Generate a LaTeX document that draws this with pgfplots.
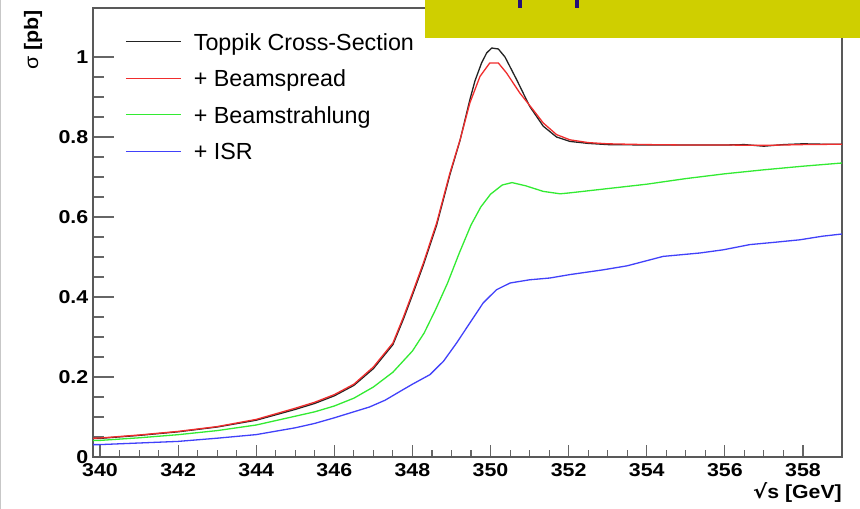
\documentclass[border=0pt]{standalone}
\usepackage{fontspec}
\setmainfont{Liberation Sans}
\newfontfamily\dejavu{DejaVu Sans}
\usepackage{graphicx}
\usepackage{pgfplots}
\pgfplotsset{compat=1.18}

\definecolor{cblack}{RGB}{35,35,35}
\definecolor{cred}{RGB}{240,45,45}
\definecolor{cgreen}{RGB}{50,235,50}
\definecolor{cblue}{RGB}{65,65,250}
\definecolor{boxyellow}{RGB}{207,207,0}
\definecolor{navy}{RGB}{35,15,120}

\newcommand{\tickfont}{\fontsize{18.6}{18.6}\selectfont\bfseries}

\begin{document}
\begin{tikzpicture}[x=1pt,y=1pt]
\useasboundingbox (0,0) rectangle (860,509);
\fill[white] (0,0) rectangle (860,509);
\draw[black!22, line width=1pt] (0.5,0) -- (0.5,509);

% axis that carries the y ticks (longer ticks, as in ROOT)
\begin{axis}[
  at={(93pt,52pt)}, anchor=south west, scale only axis,
  width=749pt, height=449pt,
  xmin=339.82, xmax=359, ymin=0, ymax=1.1225,
  axis line style={draw=none},
  xtick=\empty,
  ytick={0,0.2,0.4,0.6,0.8,1},
  minor y tick num=3,
  ytick pos=left,
  tick align=inside,
  major tick length=21pt, minor tick length=11pt,
  every tick/.style={black!60, line width=1.1pt},
  yticklabel={\scalebox{1.15}[1]{\pgfmathprintnumber[assume math mode=true]{\tick}}},
  yticklabel style={font=\tickfont, inner sep=0pt, xshift=-4.5pt},
]
\end{axis}

% main axis: data, x ticks, legend
\begin{axis}[
  at={(93pt,52pt)}, anchor=south west, scale only axis,
  width=749pt, height=449pt,
  xmin=339.82, xmax=359, ymin=0, ymax=1.1225,
  axis line style={black!65, line width=1.3pt},
  ytick=\empty,
  xtick={340,342,...,358},
  minor x tick num=3,
  xtick pos=left,
  tick align=inside,
  major tick length=12pt, minor tick length=7pt,
  every tick/.style={black!60, line width=1.1pt},
  xticklabel={\scalebox{1.15}[1]{\pgfmathprintnumber[assume math mode=true,1000 sep={}]{\tick}}},
  xticklabel style={font=\tickfont, inner sep=0pt, yshift=-6pt},
  legend cell align=left,
  legend style={draw=none, fill=none, at={(axis description cs:0.0427,0.9443)}, anchor=north west,
    inner sep=0pt, row sep=19.5pt, font=\fontsize{23.3}{23.3}\selectfont,
    nodes={inner sep=0pt, text height=17pt, text depth=0pt}},
  legend image code/.code={\draw[#1] (0pt,0pt) -- (55pt,0pt); \path[draw=none] (0pt,0pt) -- (68pt,0pt);},
  every axis plot/.append style={line width=1.3pt},
]
% Toppik cross-section (black)
\addplot[cblack] coordinates {
(339.82,0.046) (340,0.0465) (341,0.054) (342,0.063) (343,0.075) (344,0.092) (345,0.119)
(345.5,0.134) (346,0.153) (346.5,0.179) (347,0.221) (347.5,0.281) (347.77,0.345)
(348,0.405) (348.28,0.48) (348.62,0.58) (348.96,0.706) (349.22,0.792) (349.47,0.893)
(349.6,0.94) (349.77,0.985) (349.9,1.01) (350.03,1.0225) (350.2,1.02) (350.37,1.0)
(350.67,0.943) (351.0,0.877) (351.35,0.827) (351.69,0.80) (352.03,0.789) (352.5,0.784)
(353,0.781) (354,0.780) (355,0.780) (356,0.780) (356.5,0.781) (357,0.777) (357.5,0.781)
(358,0.783) (358.5,0.782) (359,0.782)
};
\addlegendentry{Toppik Cross-Section}
% + Beamspread (red)
\addplot[cred] coordinates {
(339.82,0.047) (340,0.0475) (341,0.055) (342,0.064) (343,0.076) (344,0.094) (345,0.122)
(345.5,0.137) (346,0.156) (346.5,0.182) (347,0.225) (347.5,0.285) (347.77,0.35)
(348,0.41) (348.28,0.485) (348.62,0.585) (348.96,0.71) (349.22,0.793) (349.47,0.885)
(349.73,0.9515) (349.98,0.985) (350.2,0.985) (350.41,0.96) (350.75,0.91) (351.09,0.868)
(351.35,0.835) (351.69,0.806) (352.03,0.793) (352.5,0.786) (353,0.783) (354,0.781)
(355,0.780) (356,0.780) (357,0.779) (358,0.781) (359,0.782)
};
\addlegendentry{+ Beamspread}
% + Beamstrahlung (green)
\addplot[cgreen] coordinates {
(339.82,0.041) (340,0.0415) (341,0.048) (342,0.0558) (343,0.066) (344,0.080) (345,0.102)
(345.5,0.113) (346,0.1275) (346.5,0.147) (347,0.175) (347.5,0.212) (348,0.265)
(348.3,0.31) (348.6,0.37) (348.9,0.435) (349.2,0.51) (349.5,0.58) (349.75,0.625)
(350.0,0.657) (350.3,0.68) (350.55,0.686) (350.9,0.678) (351.35,0.664) (351.78,0.658)
(352.0,0.66) (353,0.671) (354,0.682) (355,0.696) (356,0.708) (357,0.718) (358,0.727)
(359,0.735)
};
\addlegendentry{+ Beamstrahlung}
% + ISR (blue)
\addplot[cblue] coordinates {
(339.82,0.031) (340,0.031) (341,0.035) (342,0.039) (343,0.047) (344,0.056) (345,0.073)
(345.5,0.084) (346,0.098) (346.5,0.113) (346.9,0.125) (347.3,0.142) (347.7,0.165)
(348.0,0.182) (348.45,0.206) (348.8,0.24) (349.13,0.285) (349.47,0.335) (349.81,0.385)
(350.15,0.418) (350.5,0.435) (351.0,0.443) (351.52,0.4475) (352.03,0.456) (352.89,0.468)
(353.5,0.478) (354.42,0.5015) (355.36,0.51) (355.96,0.518) (356.64,0.531) (357.3,0.537)
(357.92,0.543) (358.5,0.552) (359,0.5575)
};
\addlegendentry{+ ISR}
\end{axis}

% axis titles
\node[anchor=north east, inner sep=0pt] at (842,27)
  {\scalebox{1.12}[1]{\fontsize{19}{19}\selectfont{\dejavu\bfseries √}\bfseries s [GeV]}};
\node[rotate=90, anchor=east, inner sep=0pt] at (33,499)
  {\scalebox{1.1}[1]{\fontsize{19.5}{19.5}\selectfont σ \bfseries [pb]}};

% yellow banner at the top right
\fill[boxyellow] (425,471) rectangle (860,509);
\fill[navy] (517.5,501) rectangle (521.5,509);
\fill[navy] (574.5,501) rectangle (578.5,509);
\end{tikzpicture}
\end{document}
